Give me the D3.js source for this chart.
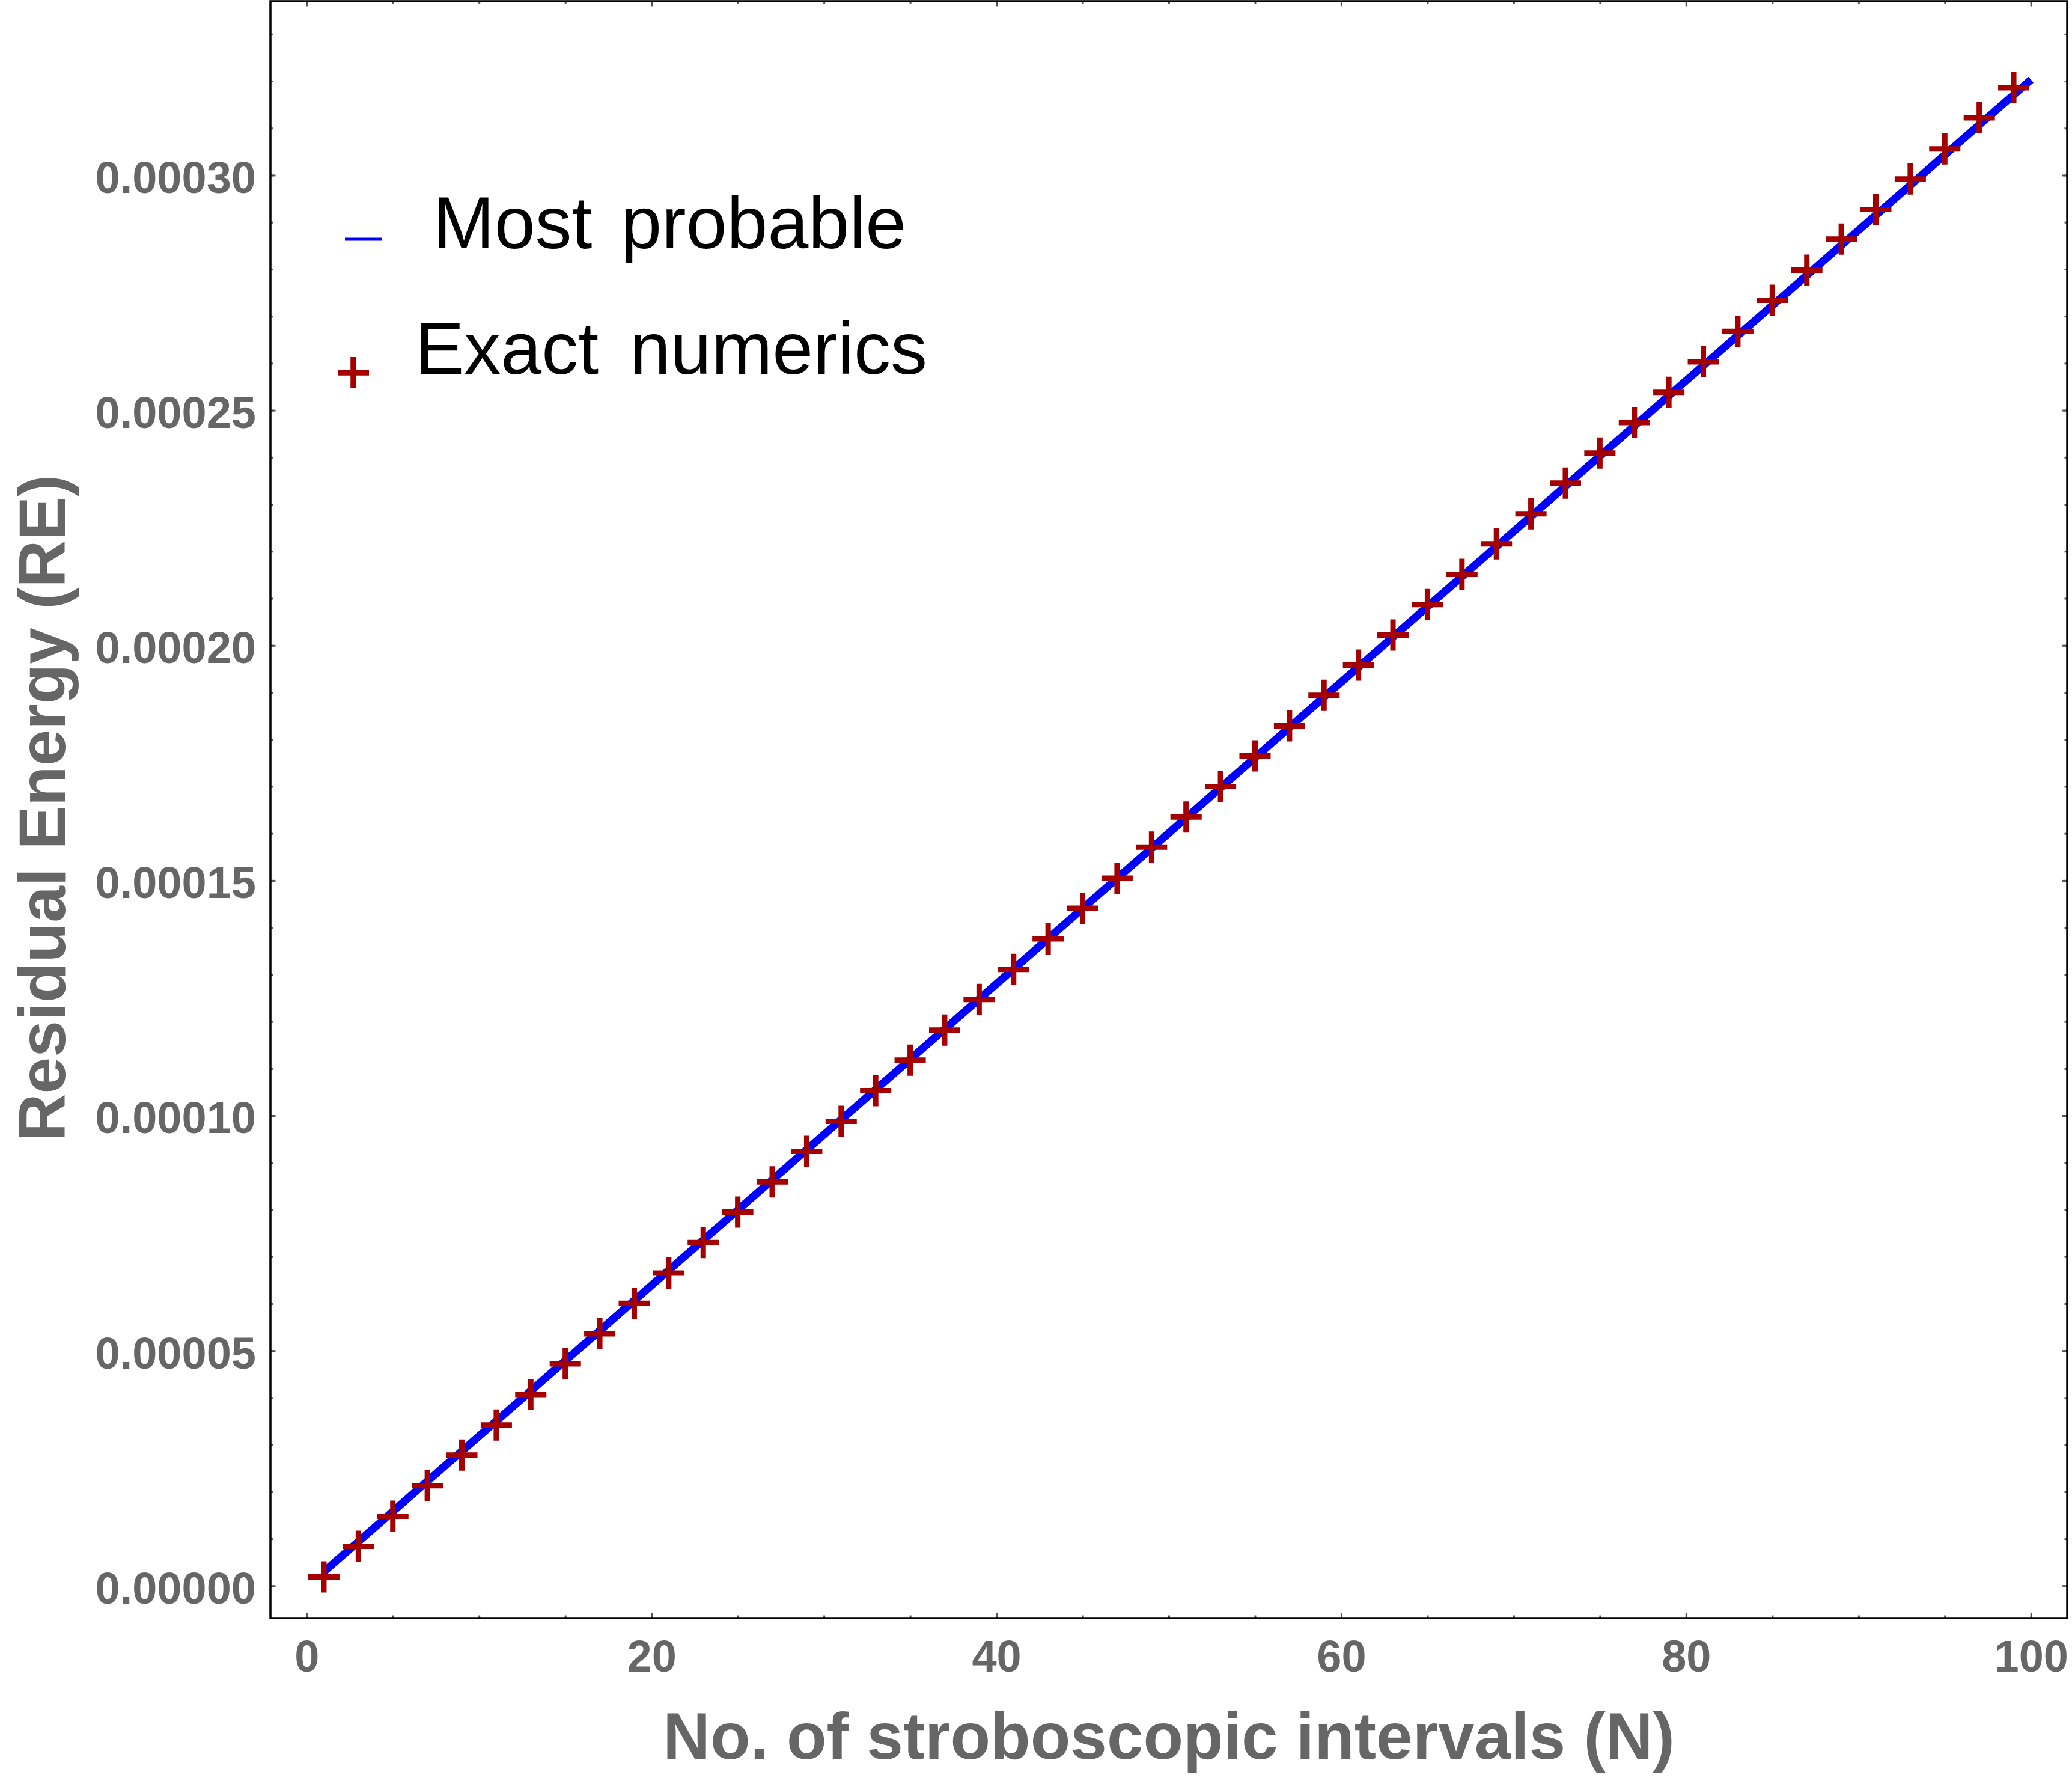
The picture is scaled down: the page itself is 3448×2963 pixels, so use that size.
<!DOCTYPE html>
<html>
<head>
<meta charset="utf-8">
<script src="https://cdn.jsdelivr.net/npm/d3@7"></script>
<style>
  body { margin: 0; background: #fff; }
  text { font-family: "Liberation Sans", Arial, sans-serif; }
</style>
</head>
<body>
<div id="chart"></div>
<script>
// N values of the exact numerics (crosses)
var nExact = [1,3,5,7,9,11,13,15,17,19,21,23,25,27,29,31,33,35,37,39,
              41,43,45,47,49,51,53,55,57,59,61,63,65,67,69,71,73,75,77,79,
              81,83,85,87,89,91,93,95,97,99];
var reExact = [1.9e-6,8.4e-6,14.8e-6,21.3e-6,27.8e-6,34.2e-6,40.7e-6,47.2e-6,53.6e-6,60.1e-6,
               66.5e-6,73.0e-6,79.5e-6,85.9e-6,92.4e-6,98.8e-6,105.3e-6,111.8e-6,118.2e-6,124.7e-6,
               131.1e-6,137.6e-6,144.1e-6,150.5e-6,157.1e-6,163.5e-6,170.0e-6,176.5e-6,182.9e-6,189.4e-6,
               195.8e-6,202.2e-6,208.7e-6,215.1e-6,221.6e-6,228.0e-6,234.5e-6,240.9e-6,247.4e-6,253.8e-6,
               260.3e-6,266.8e-6,273.4e-6,279.8e-6,286.4e-6,292.7e-6,299.2e-6,305.6e-6,312.2e-6,318.6e-6];

// most probable curve
var nLine = [1, 20, 40, 60, 80, 100];
var reLine = [3.0e-6, 63.9e-6, 128.0e-6, 192.2e-6, 256.3e-6, 320.3e-6];

var xTicks = [0, 20, 40, 60, 80, 100];
var yTicks = [0, 0.00005, 0.0001, 0.00015, 0.0002, 0.00025, 0.0003];
var legendLabels = ["Most probable", "Exact numerics"];
var xTitle = "No. of stroboscopic intervals (N)";
var yTitle = "Residual Energy (RE)";

var W = 3448, H = 2963;
var frame = {l:450, r:3440, t:2, b:2692};

var svg = d3.select('#chart').append('svg')
			.attr('width', W)
			.attr('height', H);

svg.append('rect').attr('width', W).attr('height', H).attr('fill', '#fff');

var x = d3.scaleLinear()
			.domain([-2.1, 102.1])
			.range([frame.l, frame.r]);

var y = d3.scaleLinear()
			.domain([-0.00000686, 0.000337])
			.range([frame.b, frame.t]);

var xMinor = d3.range(0, 101, 5);
var yMinor = d3.range(0, 34).map(d => d*0.00001);

function styleTicks(g) {
	g.select('.domain').remove();
	g.selectAll('.tick line').attr('stroke', '#555').attr('stroke-width', 3);
}

// minor ticks, all four sides
svg.append('g').attr('transform', 'translate(0,'+frame.b+')')
	.call(d3.axisBottom(x).tickValues(xMinor).tickSize(-4.5).tickFormat(''))
	.call(styleTicks);
svg.append('g').attr('transform', 'translate(0,'+frame.t+')')
	.call(d3.axisTop(x).tickValues(xMinor).tickSize(-4.5).tickFormat(''))
	.call(styleTicks);
svg.append('g').attr('transform', 'translate('+frame.l+',0)')
	.call(d3.axisLeft(y).tickValues(yMinor).tickSize(-4.5).tickFormat(''))
	.call(styleTicks);
svg.append('g').attr('transform', 'translate('+frame.r+',0)')
	.call(d3.axisRight(y).tickValues(yMinor).tickSize(-4.5).tickFormat(''))
	.call(styleTicks);

// major ticks
var xAxis = svg.append('g').attr('transform', 'translate(0,'+frame.b+')')
	.call(d3.axisBottom(x).tickValues(xTicks).tickSize(-8.5).tickPadding(36).tickFormat(d3.format('d')))
	.call(styleTicks);
svg.append('g').attr('transform', 'translate(0,'+frame.t+')')
	.call(d3.axisTop(x).tickValues(xTicks).tickSize(-8.5).tickFormat(''))
	.call(styleTicks);
var yAxis = svg.append('g').attr('transform', 'translate('+frame.l+',0)')
	.call(d3.axisLeft(y).tickValues(yTicks).tickSize(-8.5).tickPadding(24).tickFormat(d3.format('.5f')))
	.call(styleTicks);
svg.append('g').attr('transform', 'translate('+frame.r+',0)')
	.call(d3.axisRight(y).tickValues(yTicks).tickSize(-8.5).tickFormat(''))
	.call(styleTicks);

[xAxis, yAxis].forEach(function(g) {
	g.selectAll('.tick text')
		.attr('fill', '#666')
		.style('font-size', '74px')
		.style('font-weight', 'bold')
		.style('font-family', '"Liberation Sans", Arial, sans-serif');
});
yAxis.selectAll('.tick text').attr('dy', '0.39em');

// frame
svg.append('rect')
	.attr('x', frame.l).attr('y', frame.t)
	.attr('width', frame.r-frame.l).attr('height', frame.b-frame.t)
	.attr('fill', 'none').attr('stroke', '#000').attr('stroke-width', 3.5);

// most probable line
var line = d3.line()
			.x(d => x(d[0]))
			.y(d => y(d[1]));

svg.append('path')
	.datum(d3.zip(nLine, reLine))
	.attr('d', line)
	.attr('fill', 'none')
	.attr('stroke', '#0000ff')
	.attr('stroke-width', 13)
	.attr('stroke-linecap', 'butt');

// exact numerics crosses
var cross = 'M-26,0H26M0,-26V26';
svg.append('g')
	.selectAll('path')
	.data(d3.zip(nExact, reExact))
	.enter()
	.append('path')
		.attr('transform', d => 'translate('+x(d[0])+','+y(d[1])+')')
		.attr('d', cross)
		.attr('stroke', '#a50000')
		.attr('stroke-width', 9)
		.attr('fill', 'none');

// legend
svg.append('line')
	.attr('x1', 574).attr('x2', 635)
	.attr('y1', 398).attr('y2', 398)
	.attr('stroke', '#0000ff').attr('stroke-width', 5);
svg.append('path')
	.attr('transform', 'translate(588,620)')
	.attr('d', cross)
	.attr('stroke', '#a50000')
	.attr('stroke-width', 9.5);

svg.append('text')
	.attr('x', 721).attr('y', 413)
	.style('font-size', '122px')
	.style('word-spacing', '14px')
	.attr('fill', '#000')
	.text(legendLabels[0]);
svg.append('text')
	.attr('x', 691).attr('y', 622)
	.style('font-size', '122px')
	.style('word-spacing', '18px')
	.attr('fill', '#000')
	.text(legendLabels[1]);

// axis titles
svg.append('text')
	.attr('x', 1945).attr('y', 2926)
	.attr('text-anchor', 'middle')
	.attr('fill', '#666')
	.style('font-size', '109px')
	.style('font-weight', 'bold')
	.text(xTitle);

svg.append('text')
	.attr('transform', 'translate(108,1344) rotate(-90)')
	.attr('text-anchor', 'middle')
	.attr('fill', '#666')
	.style('font-size', '109px')
	.style('font-weight', 'bold')
	.text(yTitle);
</script>
</body>
</html>
